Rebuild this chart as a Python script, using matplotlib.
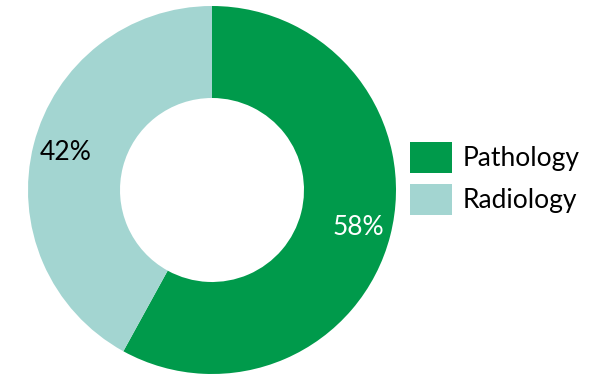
import matplotlib
matplotlib.use("Agg")
import matplotlib.pyplot as plt

labels = ["Pathology", "Radiology"]
shares = [58, 42]
colors = ["#009A4B", "#A3D5D1"]
label_colors = ["white", "black"]

plt.rcParams['font.family'] = ['Lato', 'DejaVu Sans']

fig = plt.figure(figsize=(6.16, 3.82), dpi=100)
ax = fig.add_axes([28 / 616, 8 / 382, 368 / 616, 368 / 382])

wedges, texts, autotexts = ax.pie(
    shares, colors=colors, startangle=90, counterclock=False,
    radius=1.0, autopct='%d%%', pctdistance=0.82,
    wedgeprops=dict(width=0.5, linewidth=0),
    textprops=dict(fontsize=19),
)
for t, c in zip(autotexts, label_colors):
    t.set_color(c)
ax.set_xlim(-1, 1)
ax.set_ylim(-1, 1)
ax.set_aspect('equal')

fs = 19
em = fs * 100 / 72
# legend handle height works out to fs * (0.65 * hh + 0.245)
hh = (31 / em - 0.245) / 0.65
leg = fig.legend(
    wedges, labels, loc='upper left',
    bbox_to_anchor=(410 / 616, 1 - 142 / 382),
    frameon=False, fontsize=fs,
    handlelength=42 / em, handleheight=hh,
    handletextpad=11 / em, labelspacing=11 / em, borderpad=0,
    borderaxespad=0,
)

fig.savefig("out.png", dpi=100)
